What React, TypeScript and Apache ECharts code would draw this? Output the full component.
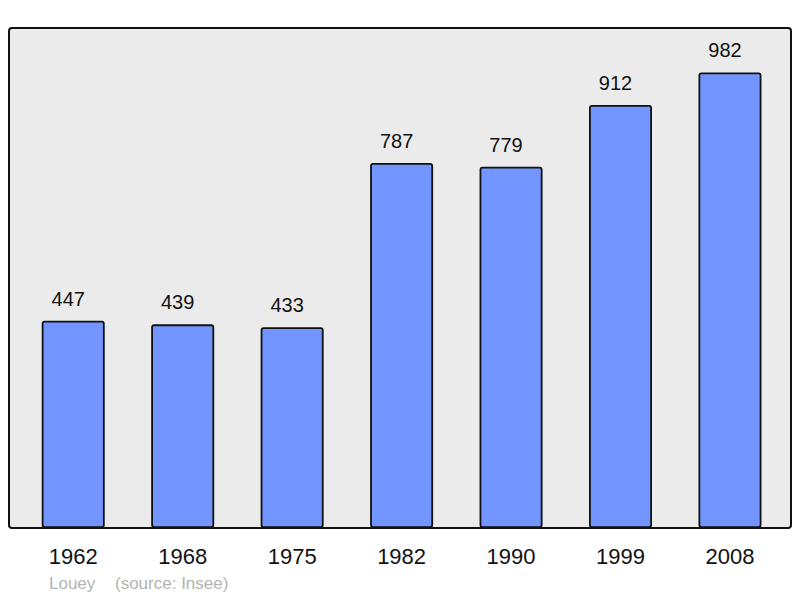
import React, { useEffect, useRef } from "react";
import * as echarts from "echarts";

const years = ["1962", "1968", "1975", "1982", "1990", "1999", "2008"];
const population = [447, 439, 433, 787, 779, 912, 982];
const footerName = "Louey";
const footerSource = "(source: Insee)";

export default function App() {
  const ref = useRef<HTMLDivElement>(null);
  useEffect(() => {
    if (!ref.current) return;
    const chart = echarts.init(ref.current, null, { renderer: "svg" });
    chart.setOption({
      animation: false,
      backgroundColor: "#ffffff",
      textStyle: { fontFamily: "Liberation Sans, Arial, sans-serif" },
      graphic: [
        {
          type: "rect",
          z: -10,
          shape: { x: 9, y: 28, width: 782, height: 500, r: 3 },
          style: { fill: "#ebebeb", stroke: "#111111", lineWidth: 2 },
          silent: true,
        },
        {
          type: "text",
          left: 49,
          top: 575,
          style: {
            text: footerName,
            fill: "#b3b3b3",
            font: "17px Liberation Sans, Arial, sans-serif",
          },
        },
        {
          type: "text",
          left: 115,
          top: 575,
          style: {
            text: footerSource,
            fill: "#b3b3b3",
            font: "17px Liberation Sans, Arial, sans-serif",
          },
        },
      ],
      grid: { left: 18.5, right: 15.3, top: 27, bottom: 70 },
      xAxis: {
        type: "category",
        data: years,
        axisLine: { show: false },
        axisTick: { show: false },
        axisLabel: {
          color: "#111111",
          fontSize: 22,
          margin: 17,
          fontFamily: "Liberation Sans, Arial, sans-serif",
        },
      },
      yAxis: {
        type: "value",
        min: 0,
        max: 1080,
        show: false,
        splitLine: { show: false },
      },
      series: [
        {
          type: "bar",
          data: population,
          barWidth: 63,
          itemStyle: {
            color: "#7295ff",
            borderColor: "#111111",
            borderWidth: 1.8,
            borderRadius: 2,
          },
          label: {
            show: true,
            position: "top",
            distance: 12,
            offset: [-5, 0],
            color: "#111111",
            fontSize: 20,
            fontFamily: "Liberation Sans, Arial, sans-serif",
          },
        },
      ],
    });
    return () => chart.dispose();
  }, []);
  return (
    <div
      ref={ref}
      style={{ position: "absolute", left: 0, top: 0, width: 800, height: 598 }}
    />
  );
}
